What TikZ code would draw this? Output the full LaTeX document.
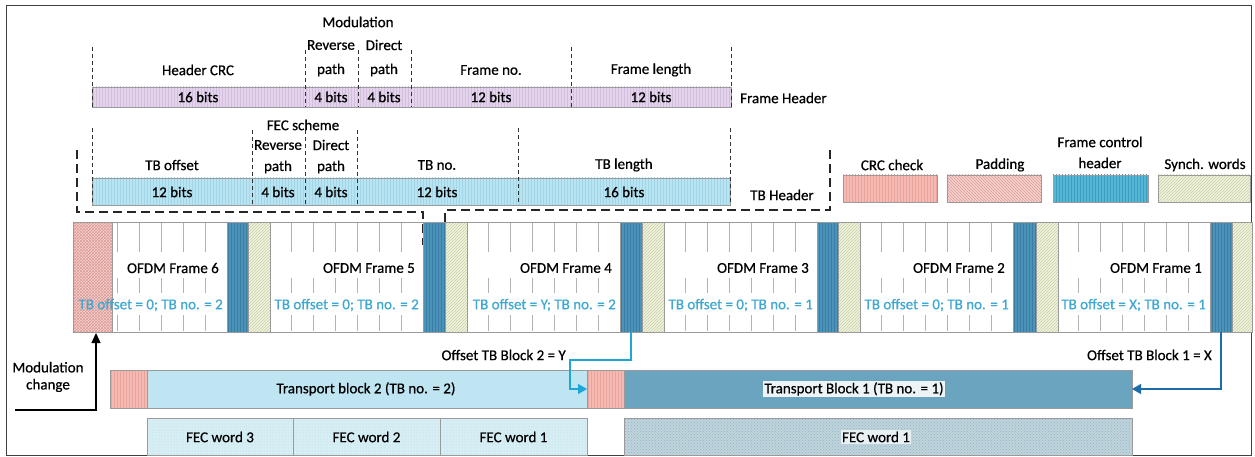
\documentclass[tikz,border=0pt]{standalone}
\usepackage{fontspec}
\setmainfont{Carlito}[RawFeature={embolden=0.6}]
\usetikzlibrary{patterns,arrows.meta}
\definecolor{fhfill}{HTML}{E3D4EC}
\definecolor{fhline}{HTML}{D3BEE0}
\definecolor{tbfill}{HTML}{B8E3F1}
\definecolor{tbline}{HTML}{A3D6E9}
\definecolor{crcfill}{HTML}{F6BAB4}
\definecolor{crcline}{HTML}{EBA29B}
\definecolor{padfill}{HTML}{F7D3D0}
\definecolor{padline}{HTML}{DB9A95}
\definecolor{fchfill}{HTML}{55B6D6}
\definecolor{fchline}{HTML}{3F9CBF}
\definecolor{fchrow}{HTML}{4C93BA}
\definecolor{fchrowl}{HTML}{3A7EA6}
\definecolor{syfill}{HTML}{F0F3E0}
\definecolor{syline}{HTML}{C9D1A4}
\definecolor{tbtext}{HTML}{3FA8D2}
\definecolor{tbtwo}{HTML}{BEE5F1}
\definecolor{tbone}{HTML}{6AA4BF}
\definecolor{fecs}{HTML}{D6EEF4}
\definecolor{fecsl}{HTML}{B7DCE7}
\definecolor{fecb}{HTML}{BFD4DC}
\definecolor{fecbl}{HTML}{93B2BE}
\definecolor{arrcyan}{HTML}{1FA6D8}
\definecolor{arrblue}{HTML}{1D6DA8}
\definecolor{edge}{HTML}{9A9A9A}
\tikzset{
  lbl/.style={font=\fontsize{15}{17}\selectfont, inner sep=0pt, text=black},
  rowtxt/.style={lbl, text=tbtext},
  hdash/.style={dash pattern=on 4pt off 3pt, line width=0.9pt, black!80},
  bracket/.style={dash pattern=on 9pt off 5pt, line width=1.1pt, black!85},
  tick/.style={draw=black!30, line width=0.8pt},
  edgebox/.style={draw=edge, line width=0.6pt},
  barbox/.style={draw=edge, line width=0.6pt, inner sep=0pt, outer sep=0pt, anchor=north west}
}
\begin{document}
\begin{tikzpicture}[x=1pt,y=-1pt]
\useasboundingbox (0,0) rectangle (1255,457);
\fill[white] (0,0) rectangle (1255,457);
\draw[black!75, line width=0.8pt] (6,5) rectangle (1251,455);

% ---------------- Frame header ----------------
\draw[edgebox, preaction={fill=fhfill}, pattern=vertical lines, pattern color=fhline] (92,87) rectangle (731,107);
\draw[hdash] (92,47) -- (92,107);
\draw[hdash] (305,50) -- (305,107);
\draw[hdash] (358,50) -- (358,107);
\draw[hdash] (411,50) -- (411,107);
\draw[hdash] (571,47) -- (571,107);
\draw[hdash] (731,47) -- (731,107);
\node[lbl] (modl) at (358,22) {Modulation};
\node[lbl] (frev) at (331,45) {Reverse};
\node[lbl] (fdir) at (384,45) {Direct};
\node[lbl] (frevp) at (331,70) {path};
\node[lbl] (fdirp) at (384,70) {path};
\node[lbl] (frevb) at (331,97) {4 bits};
\node[lbl] (fdirb) at (384,97) {4 bits};
\node[lbl] (hcrc) at (198,70) {Header CRC};
\node[lbl] (hcrcb) at (198,97) {16 bits};
\node[lbl] (fno) at (491,70) {Frame no.};
\node[lbl] (fnob) at (491,97) {12 bits};
\node[lbl] (flen) at (651,70) {Frame length};
\node[lbl] (flenb) at (651,97) {12 bits};
\node[lbl, anchor=west] (fhdr) at (740,98) {Frame Header};

% ---------------- TB header ----------------
\draw[edgebox, preaction={fill=tbfill}, pattern=vertical lines, pattern color=tbline] (92,178) rectangle (730,205);
\draw[hdash] (92,128) -- (92,205);
\draw[hdash] (252,130) -- (252,205);
\draw[hdash] (305,130) -- (305,205);
\draw[hdash] (357,130) -- (357,205);
\draw[hdash] (518,128) -- (518,205);
\draw[hdash] (730,128) -- (730,205);
\node[lbl] (fecsch) at (303,125) {FEC scheme};
\node[lbl] (trev) at (278,145) {Reverse};
\node[lbl] (tdir) at (331,145) {Direct};
\node[lbl] (trevp) at (278,167) {path};
\node[lbl] (tdirp) at (331,167) {path};
\node[lbl] (trevb) at (278,192) {4 bits};
\node[lbl] (tdirb) at (331,192) {4 bits};
\node[lbl] (tboff) at (172,165) {TB offset};
\node[lbl] (tboffb) at (172,192) {12 bits};
\node[lbl] (tbno) at (437,165) {TB no.};
\node[lbl] (tbnob) at (437,192) {12 bits};
\node[lbl] (tblen) at (624,165) {TB length};
\node[lbl] (tblenb) at (624,192) {16 bits};
\node[lbl] (tbhdr) at (782,195) {TB Header};
\draw[bracket] (77,150) -- (77,212) -- (423,212) -- (423,245);
\draw[bracket] (830,150) -- (830,210) -- (445,210) -- (445,245);

% ---------------- Legend ----------------
\draw[edgebox, preaction={fill=crcfill}, pattern=vertical lines, pattern color=crcline] (843,175) rectangle (937,202);
\draw[edgebox, preaction={fill=padfill}, pattern=north west lines, pattern color=padline] (947,175) rectangle (1041,202);
\draw[edgebox, preaction={fill=fchfill}, pattern=vertical lines, pattern color=fchline] (1053,175) rectangle (1148,202);
\draw[edgebox, preaction={fill=syfill}, pattern=north east lines, pattern color=syline] (1158,175) rectangle (1250,202);
\node[lbl] (lcrc) at (892,165) {CRC check};
\node[lbl] (lpad) at (1000,165) {Padding};
\node[lbl] (lfch) at (1100,142) {Frame control};
\node[lbl] (lfch2) at (1100,163) {header};
\node[lbl] (lsyn) at (1205,165) {Synch. words};

% ---------------- OFDM frames row ----------------
\draw[edgebox, preaction={fill=padfill}, pattern=crosshatch, pattern color=padline] (73,222) rectangle (112,332);
\foreach \a/\b in {227/248,423/445,620/642,817/838,1013/1036,1210/1232}
  \draw[edgebox, preaction={fill=fchrow}, pattern=vertical lines, pattern color=fchrowl] (\a,222) rectangle (\b,332);
\foreach \a/\b in {248/270,445/467,642/664,838/860,1036/1058,1232/1252}
  \draw[edgebox, preaction={fill=syfill}, pattern=north east lines, pattern color=syline] (\a,222) rectangle (\b,332);
\foreach \L/\R/\nt/\n/\t in {112/227/5/6/{TB offset = 0; TB no. = 2},
    270/423/6/5/{TB offset = 0; TB no. = 2},
    467/620/6/4/{TB offset = Y; TB no. = 2},
    664/817/6/3/{TB offset = 0; TB no. = 1},
    860/1013/6/2/{TB offset = 0; TB no. = 1},
    1058/1210/6/1/{TB offset = X; TB no. = 1}} {
  \foreach \k in {1,...,\nt} {
    \pgfmathsetmacro\tx{\R-22*\k}
    \draw[tick] (\tx,223) -- (\tx,252) (\tx,278) -- (\tx,293) (\tx,315) -- (\tx,331);
  }
  \node[lbl, anchor=east] (of\n) at (\R-8,268) {OFDM Frame \n};
  \node[rowtxt, anchor=east] (tb\n) at (\R-4,305) {\t};
}
\draw[edge, line width=0.7pt] (73,222) rectangle (1252,332);
\coordinate (fch4b) at (631,332);
\coordinate (fch1b) at (1221,332);

% ---------------- Transport blocks ----------------
\draw[edgebox, preaction={fill=crcfill}, pattern=vertical lines, pattern color=crcline] (110,370) rectangle (147,408);
\node[barbox, fill=tbtwo, minimum width=440pt, minimum height=38pt] (tb2) at (147,370) {};
\node[lbl] (tb2t) at (366,389) {Transport block 2 (TB no. = 2)};
\draw[edgebox, preaction={fill=crcfill}, pattern=vertical lines, pattern color=crcline] (587,370) rectangle (624,408);
\node[barbox, fill=tbone, minimum width=508pt, minimum height=38pt] (tb1) at (624,370) {};
\node[lbl, fill=tbone!12, inner sep=1.5pt] (tb1t) at (854,389) {Transport Block 1 (TB no. = 1)};

\foreach \a/\b/\w in {147/293/3,293/440/2,440/587/1} {
  \draw[edgebox, preaction={fill=fecs}, pattern=dots, pattern color=fecsl] (\a,418) rectangle (\b,455);
  \node[lbl] (fec\w) at ({(\a+\b)/2},437) {FEC word \w};
}
\draw[edgebox, preaction={fill=fecb}, pattern=crosshatch dots, pattern color=fecbl] (624,418) rectangle (1132,455);
\node[lbl, fill=fecb!35, inner sep=1.5pt] (fecbig) at (876,437) {FEC word 1};

% ---------------- Connectors ----------------
\draw[arrcyan, line width=1.3pt, -{Triangle[length=9pt,width=10pt]}] (fch4b) -- (631,360) -- (570,360) |- (tb2.east);
\node[lbl, anchor=east] (off2) at (566,355) {Offset TB Block 2 = Y};
\draw[arrblue, line width=1.3pt, -{Triangle[length=9pt,width=10pt]}] (fch1b) |- (tb1.east);
\node[lbl, anchor=east] (off1) at (1212,355) {Offset TB Block 1 = X};

\coordinate (mcs) at (15,410);
\coordinate (mce) at (96,333);
\draw[black, line width=1.4pt, -{Triangle[length=10pt,width=9pt]}] (mcs) -| (mce);
\node[lbl, align=center] (modch) at (48,377) {Modulation\\change};
\end{tikzpicture}
\end{document}
